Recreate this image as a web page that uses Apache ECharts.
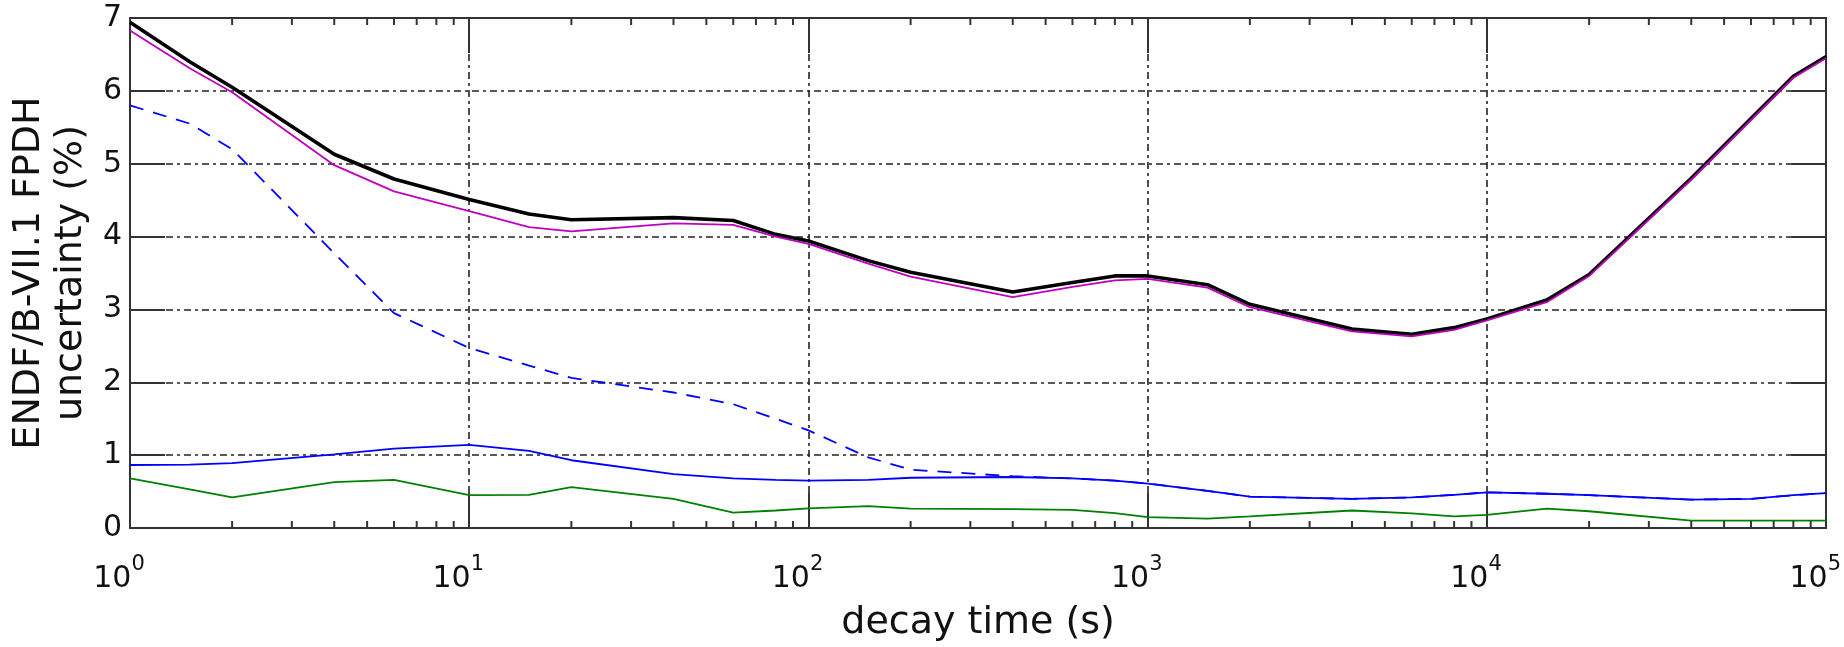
<!DOCTYPE html>
<html><head><meta charset="utf-8">
<script src="https://cdn.jsdelivr.net/npm/echarts@6/dist/echarts.min.js"></script>
<style>html,body{margin:0;padding:0;background:#fff}#c{width:1844px;height:647px}</style>
</head><body><div id="c"></div>
<script>
// decay times (s)
const times = [1,1.5,2,4,6,10,15,20,40,60,80,100,150,200,400,600,800,1000,1500,2000,4000,6000,8000,10000,15000,20000,40000,60000,80000,100000];
// uncertainty (%) per series
const totalUnc   = [6.94,6.40,6.05,5.13,4.79,4.51,4.31,4.23,4.26,4.22,4.03,3.94,3.67,3.51,3.24,3.37,3.46,3.46,3.34,3.07,2.73,2.66,2.75,2.87,3.13,3.48,4.80,5.62,6.20,6.47];
const magentaUnc = [6.83,6.31,5.98,4.98,4.62,4.35,4.13,4.07,4.18,4.16,4.00,3.90,3.63,3.45,3.17,3.31,3.40,3.42,3.30,3.03,2.70,2.63,2.72,2.85,3.10,3.46,4.78,5.60,6.18,6.45];
const blueDashed = [5.80,5.55,5.20,3.77,2.95,2.47,2.23,2.06,1.86,1.70,1.50,1.34,0.97,0.80,0.71,0.68,0.65,0.61,0.51,0.43,0.40,0.42,0.455,0.49,0.47,0.45,0.39,0.40,0.45,0.48];
const blueSolid  = [0.865,0.87,0.89,1.01,1.09,1.14,1.06,0.93,0.74,0.68,0.66,0.65,0.66,0.69,0.70,0.68,0.65,0.61,0.51,0.43,0.40,0.42,0.455,0.49,0.47,0.45,0.39,0.40,0.45,0.48];
const greenUnc   = [0.68,0.53,0.42,0.63,0.66,0.45,0.455,0.56,0.40,0.21,0.24,0.27,0.30,0.265,0.26,0.25,0.205,0.15,0.13,0.16,0.24,0.20,0.16,0.18,0.265,0.23,0.10,0.10,0.10,0.10];
// axis settings
const yTicks = [0,1,2,3,4,5,6,7];
const xMin = 1, xMax = 100000;
const minorTicks = [];
for (let e = 0; e < 5; e++) for (let k = 2; k <= 9; k++) minorTicks.push([k * Math.pow(10, e), 0]);

const FONT = 'DejaVu Sans';
const pairs = arr => times.map((t, i) => [t, arr[i]]);

const chart = echarts.init(document.getElementById('c'), null, {renderer: 'canvas'});
const gridLine = {show: true, lineStyle: {color: '#222', width: 1.6, type: [7, 4, 3, 4]}};
const axisLineStyle = {show: true, onZero: false, lineStyle: {color: '#333', width: 2}};

chart.setOption({
  animation: false,
  backgroundColor: '#fff',
  grid: {left: 130, right: 14, top: 18, bottom: 117, containLabel: false},
  xAxis: [{
    type: 'log', logBase: 10, min: xMin, max: xMax, position: 'bottom',
    name: 'decay time (s)', nameLocation: 'middle', nameGap: 76,
    nameTextStyle: {fontFamily: FONT, fontSize: 38, lineHeight: 38, color: '#111'},
    axisLine: axisLineStyle,
    axisTick: {show: true, inside: true, length: 35, lineStyle: {color: '#333', width: 2}},
    splitLine: gridLine,
    axisLabel: {
      margin: 26, padding: [0, 22, 0, 0],
      formatter: v => '{b|10}{s|' + Math.round(Math.log10(v)) + '}',
      rich: {
        b: {fontFamily: FONT, fontSize: 30, lineHeight: 40, verticalAlign: 'bottom', color: '#111'},
        s: {fontFamily: FONT, fontSize: 21, lineHeight: 40, verticalAlign: 'top', color: '#111'}
      }
    }
  }, {
    type: 'log', logBase: 10, min: xMin, max: xMax, position: 'top',
    axisLine: axisLineStyle,
    axisTick: {show: true, inside: true, length: 35, lineStyle: {color: '#333', width: 2}},
    axisLabel: {show: false}, splitLine: {show: false}
  }],
  yAxis: [{
    type: 'value', min: yTicks[0], max: yTicks[yTicks.length - 1], interval: 1, position: 'left',
    name: 'ENDF/B-VII.1 FPDH\nuncertainty (%)', nameLocation: 'middle', nameRotate: 90, nameGap: 36,
    nameTextStyle: {fontFamily: FONT, fontSize: 38, lineHeight: 42, color: '#111'},
    axisLine: axisLineStyle,
    axisTick: {show: true, inside: true, length: 35, lineStyle: {color: '#333', width: 2}},
    splitLine: gridLine,
    axisLabel: {margin: 8, fontFamily: FONT, fontSize: 30, color: '#111'}
  }, {
    type: 'value', min: yTicks[0], max: yTicks[yTicks.length - 1], interval: 1, position: 'right',
    axisLine: axisLineStyle,
    axisTick: {show: true, inside: true, length: 35, lineStyle: {color: '#333', width: 2}},
    axisLabel: {show: false}, splitLine: {show: false}
  }],
  series: [
    {type: 'line', data: pairs(totalUnc), showSymbol: false, lineStyle: {color: '#000', width: 3.6}, z: 3},
    {type: 'line', data: pairs(magentaUnc), showSymbol: false, lineStyle: {color: '#bf00bf', width: 1.8}, z: 4},
    {type: 'line', data: pairs(blueSolid), showSymbol: false, lineStyle: {color: '#0000ff', width: 1.8}, z: 5},
    {type: 'line', data: pairs(blueDashed), showSymbol: false, lineStyle: {color: '#0000ff', width: 1.8, type: [14, 10]}, z: 6},
    {type: 'line', data: pairs(greenUnc), showSymbol: false, lineStyle: {color: '#008000', width: 1.8}, z: 7},
    {
      type: 'custom', data: minorTicks, z: 10, silent: true, clip: false,
      renderItem: (params, api) => {
        const t = api.value(0);
        const pb = api.coord([t, yTicks[0]]);
        const pt = api.coord([t, yTicks[yTicks.length - 1]]);
        const st = {stroke: '#333', lineWidth: 2};
        return {type: 'group', children: [
          {type: 'line', shape: {x1: pb[0], y1: pb[1], x2: pb[0], y2: pb[1] - 7}, style: st},
          {type: 'line', shape: {x1: pt[0], y1: pt[1], x2: pt[0], y2: pt[1] + 7}, style: st}
        ]};
      }
    }
  ]
});
</script></body></html>
